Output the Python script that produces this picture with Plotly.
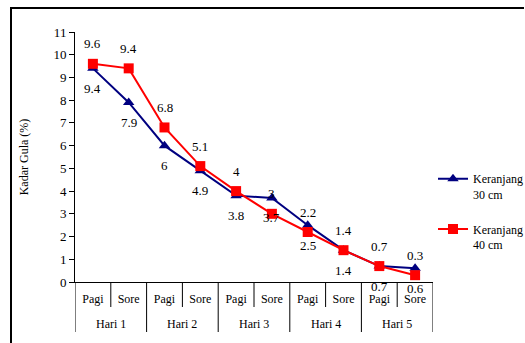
import plotly.graph_objects as go

# Sugar content (%) per sampling time
hari = ["Hari 1", "Hari 2", "Hari 3", "Hari 4", "Hari 5"]
waktu = ["Pagi", "Sore"]
keranjang_30 = [9.4, 7.9, 6, 4.9, 3.8, 3.7, 2.5, 1.4, 0.7, 0.6]
keranjang_40 = [9.6, 9.4, 6.8, 5.1, 4, 3, 2.2, 1.4, 0.7, 0.3]

ticks = [w for _ in hari for w in waktu]
xs = list(range(len(ticks)))

FONT = "Liberation Serif"
NAVY = "#000080"
RED = "#FF0000"

# plot area in pixels
L, R, T, B = 75, 92, 32, 61
W, H = 525, 343
pw, ph = W - L - R, H - T - B


def px_x(p):
    return (p - L) / pw


def px_y(p):
    return (H - B - p) / ph


fig = go.Figure()
fig.add_trace(go.Scatter(
    x=xs, y=keranjang_30, mode="lines+markers", name="Keranjang<br>30 cm",
    line=dict(color=NAVY, width=2),
    marker=dict(symbol="triangle-up", size=10, color=NAVY),
    legendgroup="a",
))
fig.add_trace(go.Scatter(
    x=xs, y=keranjang_40, mode="lines+markers", name="Keranjang<br>40 cm",
    line=dict(color=RED, width=2),
    marker=dict(symbol="square", size=10, color=RED),
    legendgroup="b",
))

# value labels: 30 cm below the points, 40 cm above
annotations = []
for x, v in zip(xs, keranjang_30):
    annotations.append(dict(x=x, y=v, text=f"{v:g}", showarrow=False,
                            yshift=-20, font=dict(family=FONT, size=13, color="black")))
for x, v in zip(xs, keranjang_40):
    annotations.append(dict(x=x, y=v, text=f"{v:g}", showarrow=False,
                            yshift=20, font=dict(family=FONT, size=13, color="black")))

# day labels under the time-of-day labels
for i, h in enumerate(hari):
    annotations.append(dict(x=2 * i + 0.5, y=px_y(324), yref="paper", text=h,
                            showarrow=False, yanchor="middle",
                            font=dict(family=FONT, size=12, color="black")))

shapes = []
# dividers in the category table
for k in range(len(ticks) + 1):
    boundary = k % 2 == 0
    bottom = 332 if boundary else 307
    shapes.append(dict(type="line", xref="x", yref="paper",
                       x0=k - 0.5, x1=k - 0.5, y0=0, y1=px_y(bottom),
                       line=dict(color="black", width=1)))
# outer frame (top and left edges)
shapes.append(dict(type="line", xref="paper", yref="paper",
                   x0=px_x(10), x1=px_x(524), y0=px_y(8), y1=px_y(8),
                   line=dict(color="black", width=2)))
shapes.append(dict(type="line", xref="paper", yref="paper",
                   x0=px_x(11), x1=px_x(11), y0=px_y(8), y1=px_y(343),
                   line=dict(color="black", width=2)))

fig.update_layout(
    width=W, height=H,
    margin=dict(l=L, r=R, t=T, b=B, autoexpand=False),
    paper_bgcolor="white", plot_bgcolor="white",
    font=dict(family=FONT, size=12, color="black"),
    showlegend=True,
    legend=dict(x=px_x(433), xanchor="left", y=px_y(212), yanchor="middle",
                font=dict(family=FONT, size=12), valign="top",
                tracegroupgap=16, bgcolor="rgba(0,0,0,0)"),
    annotations=annotations,
    shapes=shapes,
    xaxis=dict(
        range=[-0.5, len(ticks) - 0.5], tickvals=xs, ticktext=ticks,
        showgrid=False, zeroline=False, showline=True, linecolor="black",
        linewidth=1, ticks="", ticklabelstandoff=6,
        tickfont=dict(family=FONT, size=12),
    ),
    yaxis=dict(
        range=[0, 11], dtick=1, showgrid=False, zeroline=False,
        showline=True, linecolor="black", linewidth=1,
        ticks="outside", ticklen=5, tickcolor="black",
        tickfont=dict(family=FONT, size=13),
        title=dict(text="Kadar Gula (%)", font=dict(family=FONT, size=12),
                   standoff=22),
    ),
)

fig.write_html("out.html")
